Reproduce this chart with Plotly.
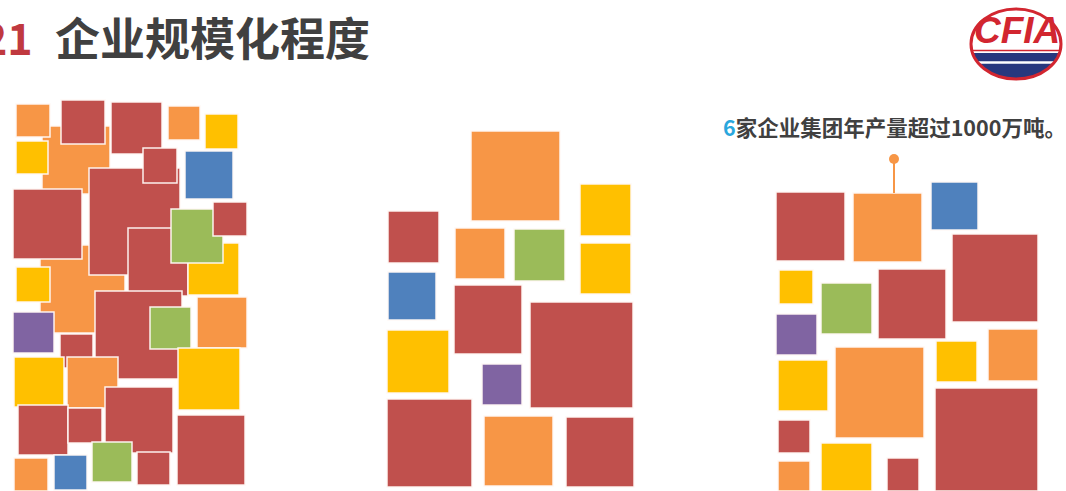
import numpy as np
import plotly.graph_objects as go

W, H = 1066, 491

# ---- data: squares (left, top, right, bottom) in slide-pixel units, plus colour category ----
sq_x0 = [42, 40, 89, 128, 16, 61, 111, 168, 205, 16, 143, 185, 13, 188, 171, 213, 16, 95, 150, 197, 13, 60, 14, 67, 178, 105, 18, 68, 177, 14, 54, 92, 137,
         471, 580, 388, 455, 514, 580, 388, 454, 530, 387, 482, 387, 484, 566,
         776, 853, 931, 952, 779, 821, 878, 776, 988, 936, 778, 835, 935, 778, 778, 821, 887]
sq_y0 = [126, 245, 168, 228, 104, 100, 102, 106, 114, 141, 148, 151, 189, 243, 209, 202, 267, 291, 307, 297, 312, 334, 357, 357, 348, 387, 405, 408, 415, 458, 455, 442, 452,
         131, 184, 211, 228, 229, 243, 272, 285, 302, 330, 364, 399, 416, 417,
         192, 193, 182, 234, 270, 283, 269, 314, 329, 341, 360, 347, 388, 420, 461, 443, 458]
sq_x1 = [110, 125, 180, 188, 50, 105, 162, 200, 238, 48, 177, 233, 82, 239, 223, 247, 50, 182, 191, 247, 54, 93, 64, 118, 240, 173, 68, 102, 245, 48, 87, 132, 170,
         560, 631, 439, 505, 565, 631, 436, 522, 633, 449, 522, 472, 553, 634,
         845, 922, 978, 1038, 813, 872, 946, 817, 1038, 977, 828, 924, 1038, 810, 810, 872, 919]
sq_y1 = [194, 333, 275, 296, 137, 144, 154, 140, 149, 174, 183, 199, 259, 295, 263, 236, 302, 379, 349, 348, 353, 368, 407, 408, 410, 453, 455, 443, 485, 491, 490, 482, 485,
         221, 236, 263, 279, 281, 294, 320, 354, 408, 393, 405, 487, 486, 487,
         261, 262, 230, 322, 304, 334, 339, 355, 381, 382, 411, 438, 491, 453, 491, 491, 491]
sq_cat = ["orange", "orange", "red", "red", "orange", "red", "red", "orange", "yellow", "yellow", "red", "blue", "red", "yellow", "green", "red", "yellow", "red", "green", "orange", "purple", "red", "yellow", "orange", "yellow", "red", "red", "red", "red", "orange", "blue", "green", "red",
          "orange", "yellow", "red", "orange", "green", "yellow", "blue", "red", "red", "yellow", "purple", "red", "orange", "red",
          "red", "orange", "blue", "red", "yellow", "green", "red", "purple", "orange", "yellow", "yellow", "orange", "red", "red", "orange", "yellow", "red"]

title_num = "21"
title_text = "企业规模化程度"
note_num = "6"
note_text = "家企业集团年产量超过1000万吨。"
logo_text = "CFIA"

palette = {"red": "#C0504D", "orange": "#F79646", "yellow": "#FFC000",
           "blue": "#4F81BD", "green": "#9BBB59", "purple": "#8064A2"}

fig = go.Figure()
fig.add_trace(go.Scatter(x=[0, W], y=[0, H], mode="markers", marker=dict(opacity=0),
                         hoverinfo="skip", showlegend=False))

shapes = []
for x0, y0, x1, y1, c in zip(sq_x0, sq_y0, sq_x1, sq_y1, sq_cat):
    shapes.append(dict(type="rect", xref="x", yref="y", x0=x0, y0=y0, x1=x1, y1=y1,
                       fillcolor=palette[c], line=dict(color="rgba(255,248,245,0.95)", width=1.5),
                       layer="above"))

# pin on the orange square
shapes.append(dict(type="line", xref="x", yref="y", x0=894, y0=162, x1=894, y1=193,
                   line=dict(color="#F79646", width=2)))
shapes.append(dict(type="circle", xref="x", yref="y", x0=889, y0=154, x1=899, y1=164,
                   fillcolor="#F79646", line=dict(color="#F79646", width=0)))

# logo: ellipse with blue lower cap
cx, cy, rx, ry = 1016, 44, 45, 35
def cap_path(ytop):
    t = np.linspace(0, np.pi, 80)
    xs = cx + rx * np.cos(t)
    ys = cy + ry * np.sin(t)
    pts = [(x, y) for x, y in zip(xs, ys) if y >= ytop]
    dx = rx * np.sqrt(max(0, 1 - ((ytop - cy) / ry) ** 2))
    pts = [(cx + dx, ytop)] + pts + [(cx - dx, ytop)]
    return "M " + " L ".join(f"{x:.1f},{y:.1f}" for x, y in pts) + " Z"

shapes.append(dict(type="path", xref="x", yref="y", path=cap_path(53),
                   fillcolor="#27387E", line=dict(width=0)))
shapes.append(dict(type="line", xref="x", yref="y", x0=cx - 42, y0=62.5, x1=cx + 42, y1=62.5,
                   line=dict(color="white", width=2.5)))
shapes.append(dict(type="line", xref="x", yref="y", x0=cx - 43, y0=50.5, x1=cx + 43, y1=50.5,
                   line=dict(color="#D22630", width=1.5)))
shapes.append(dict(type="circle", xref="x", yref="y", x0=cx - rx, y0=cy - ry, x1=cx + rx, y1=cy + ry,
                   line=dict(color="#D22630", width=3)))

annotations = [
    dict(x=35, y=36, xref="x", yref="y", text=f"<b>{title_num}</b>", showarrow=False,
         xanchor="right", yanchor="middle",
         font=dict(family="Noto Sans CJK SC", size=43, color="#C0393F")),
    dict(x=53, y=36, xref="x", yref="y", text=f"<b>{title_text}</b>", showarrow=False,
         xanchor="left", yanchor="middle",
         font=dict(family="Noto Sans CJK SC", size=45, color="#404040")),
    dict(x=721, y=126, xref="x", yref="y",
         text=f"<b><span style='color:#2AA7DD'>{note_num}</span>{note_text}</b>",
         showarrow=False, xanchor="left", yanchor="middle",
         font=dict(family="Noto Sans CJK SC", size=21.5, color="#404040")),
    dict(x=1017, y=30, xref="x", yref="y", text=f"<b><i>{logo_text}</i></b>", showarrow=False,
         xanchor="center", yanchor="middle",
         font=dict(family="Liberation Sans", size=37, color="#D22630")),
]

fig.update_layout(
    width=W, height=H, margin=dict(l=0, r=0, t=0, b=0),
    paper_bgcolor="white", plot_bgcolor="white",
    xaxis=dict(range=[0, W], visible=False, fixedrange=True),
    yaxis=dict(range=[H, 0], visible=False, fixedrange=True),
    shapes=shapes, annotations=annotations, showlegend=False,
)

fig.write_html("out.html")
